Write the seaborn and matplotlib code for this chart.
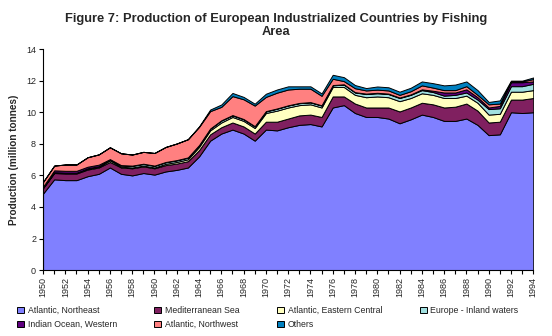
import matplotlib
matplotlib.use("Agg")
import matplotlib.pyplot as plt
import seaborn as sns
import pandas as pd

years = list(range(1950, 1995))

atlantic_ne = [4.85, 5.75, 5.7, 5.7, 5.95, 6.1, 6.5, 6.1, 6.0, 6.15,
               6.05, 6.25, 6.35, 6.5, 7.2, 8.2, 8.65, 8.9, 8.65, 8.2,
               8.9, 8.85, 9.05, 9.2, 9.25, 9.1, 10.3, 10.45, 9.95, 9.7,
               9.7, 9.6, 9.3, 9.55, 9.85, 9.7, 9.45, 9.45, 9.6, 9.2,
               8.55, 8.6, 10.0, 9.95, 10.0]
mediterranean = [0.35, 0.4, 0.42, 0.42, 0.42, 0.4, 0.35, 0.4, 0.45, 0.42,
                 0.4, 0.4, 0.4, 0.4, 0.4, 0.4, 0.4, 0.45, 0.45, 0.45,
                 0.5, 0.55, 0.55, 0.6, 0.6, 0.6, 0.7, 0.55, 0.6, 0.6,
                 0.6, 0.7, 0.75, 0.75, 0.75, 0.8, 0.85, 0.9, 0.95, 0.9,
                 0.8, 0.8, 0.8, 0.85, 0.9]
atlantic_ec = [0.02, 0.03, 0.03, 0.03, 0.05, 0.05, 0.1, 0.05, 0.05, 0.05,
               0.05, 0.08, 0.1, 0.12, 0.2, 0.25, 0.3, 0.35, 0.35, 0.35,
               0.55, 0.7, 0.7, 0.65, 0.65, 0.6, 0.6, 0.6, 0.55, 0.65,
               0.7, 0.65, 0.65, 0.6, 0.6, 0.6, 0.6, 0.55, 0.5, 0.5,
               0.5, 0.5, 0.5, 0.5, 0.5]
inland = [0.02, 0.02, 0.02, 0.02, 0.03, 0.03, 0.05, 0.08, 0.1, 0.1,
          0.1, 0.1, 0.1, 0.1, 0.1, 0.1, 0.12, 0.1, 0.1, 0.1,
          0.1, 0.12, 0.12, 0.12, 0.12, 0.12, 0.1, 0.15, 0.15, 0.2,
          0.2, 0.2, 0.2, 0.2, 0.2, 0.18, 0.15, 0.2, 0.2, 0.2,
          0.35, 0.35, 0.35, 0.35, 0.4]
indian_w = [0.05, 0.12, 0.12, 0.12, 0.1, 0.1, 0.03, 0.02, 0.02, 0.02,
            0.02, 0.02, 0.02, 0.02, 0.02, 0.02, 0.02, 0.02, 0.02, 0.02,
            0.02, 0.02, 0.02, 0.02, 0.02, 0.02, 0.02, 0.02, 0.02, 0.03,
            0.03, 0.03, 0.03, 0.03, 0.05, 0.08, 0.2, 0.15, 0.2, 0.15,
            0.1, 0.15, 0.25, 0.25, 0.15]
atlantic_nw = [0.3, 0.3, 0.4, 0.4, 0.6, 0.65, 0.75, 0.75, 0.7, 0.75,
               0.8, 0.95, 1.05, 1.15, 1.15, 1.1, 0.85, 1.2, 1.25, 1.3,
               0.9, 1.0, 1.0, 0.9, 0.85, 0.6, 0.4, 0.2, 0.25, 0.2,
               0.2, 0.2, 0.17, 0.2, 0.25, 0.2, 0.15, 0.15, 0.2, 0.15,
               0.2, 0.15, 0.05, 0.05, 0.15]
others = [0, 0, 0, 0, 0, 0, 0, 0, 0, 0,
          0, 0, 0, 0, 0.03, 0.1, 0.15, 0.2, 0.15, 0.12,
          0.2, 0.2, 0.2, 0.15, 0.15, 0.15, 0.25, 0.25, 0.2, 0.15,
          0.2, 0.2, 0.2, 0.22, 0.25, 0.28, 0.3, 0.35, 0.3, 0.3,
          0.15, 0.2, 0.05, 0.05, 0.1]

labels = ["Atlantic, Northeast", "Mediterranean Sea", "Atlantic, Eastern Central",
          "Europe - Inland waters", "Indian Ocean, Western", "Atlantic, Northwest",
          "Others"]
colors = ["#8080FF", "#802060", "#FFFFC0", "#A0E0E0", "#600080", "#FF8080", "#0080C0"]

df = pd.DataFrame({
    "year": years,
    labels[0]: atlantic_ne,
    labels[1]: mediterranean,
    labels[2]: atlantic_ec,
    labels[3]: inland,
    labels[4]: indian_w,
    labels[5]: atlantic_nw,
    labels[6]: others,
})

sns.set_style("ticks")
plt.rcParams["font.family"] = ["Liberation Sans", "DejaVu Sans"]

fig = plt.figure(figsize=(5.52, 3.36), dpi=100)
ax = fig.add_axes([0.078, 0.196, 0.888, 0.658])

polys = ax.stackplot(df["year"], [df[l] for l in labels], labels=labels,
                     colors=colors, edgecolor="black", linewidth=0.7)

ax.set_xlim(1950, 1994)
ax.set_ylim(0, 14)
ax.set_yticks(range(0, 15, 2))
ax.set_xticks(years, minor=True)
ax.set_xticks(range(1950, 1995, 2))
ax.set_xticklabels([str(y) for y in range(1950, 1995, 2)], rotation=90)
ax.tick_params(axis="both", which="both", direction="out", length=3,
               width=0.8, color="black", labelsize=6.5, pad=2)
for s in ["top", "right"]:
    ax.spines[s].set_visible(False)
for s in ["left", "bottom"]:
    ax.spines[s].set_color("black")
    ax.spines[s].set_linewidth(0.8)

ax.set_ylabel("Production (million tonnes)", fontsize=7.2, fontweight="bold", labelpad=5)
fig.suptitle("Figure 7: Production of European Industrialized Countries by Fishing\nArea",
             x=0.5, y=0.96, fontsize=9.3, fontweight="bold", linespacing=1.05)

order = [0, 4, 1, 5, 2, 6, 3]
handles = [polys[i] for i in order]
fig.legend(handles, [labels[i] for i in order], ncol=4, loc="lower left",
           bbox_to_anchor=(0.025, 0.01, 0.92, 0.1), mode="expand",
           frameon=False, fontsize=6.3, handlelength=0.8, handleheight=0.8,
           handletextpad=0.4, labelspacing=0.6, borderaxespad=0)

fig.savefig("out.png", dpi=100)
